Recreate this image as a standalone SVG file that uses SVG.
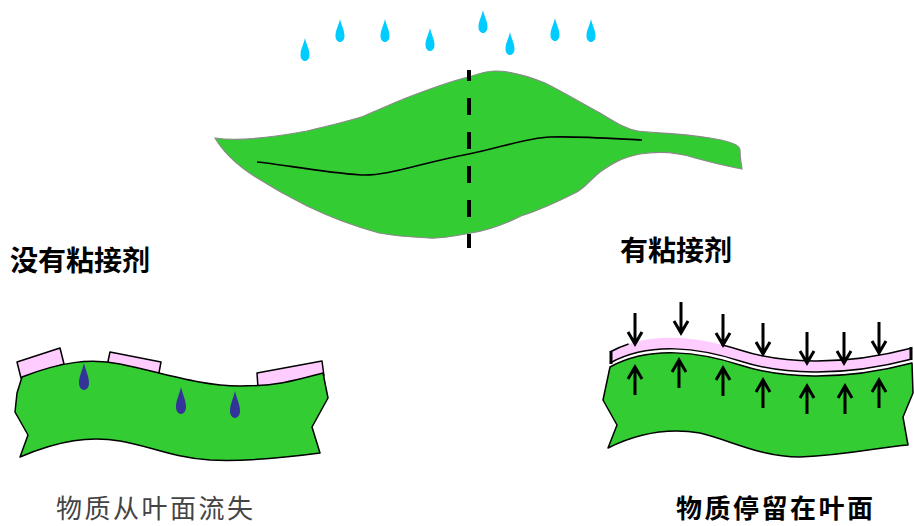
<svg xmlns="http://www.w3.org/2000/svg" width="914" height="526" viewBox="0 0 914 526">
  <style>
    .leaf { fill: #33CC33; stroke: #000; stroke-width: 1.5; stroke-linejoin: round; }
    .leaf-top { fill: #33CC33; stroke: #8a8a8a; stroke-width: 1.2; }
    .vein { fill: none; stroke: #000; stroke-width: 1.6; }
    .coat { fill: #FFCCFF; stroke: #000; stroke-width: 1.5; stroke-linejoin: round; }
    .rain { fill: #00CCFF; }
    .loss { fill: #333399; }
    .arrow { fill: none; stroke: #000; stroke-width: 3; stroke-linecap: butt; }
    .edge { fill: none; stroke: #000; stroke-width: 1.5; }
    .cap { fill: none; stroke: #000; stroke-width: 3; }
    .label { font-family: "Noto Sans CJK SC", "Noto Sans", sans-serif; font-size: 28px; font-weight: bold; fill: #000; }
    .note { font-family: "Noto Sans CJK SC", "Noto Sans", sans-serif; font-size: 26px; letter-spacing: 2.5px; }
  </style>
  <defs>
    <path id="drop" d="M0,0 C1.5,7 4.5,11 4.5,17 C4.5,20.5 2.5,23 0,23 C-2.5,23 -4.5,20.5 -4.5,17 C-4.5,11 -1.5,7 0,0 Z"/>
    <path id="drop-big" d="M0,0 C1.8,8 5,13 5,20 C5,24 2.8,27 0,27 C-2.8,27 -5,24 -5,20 C-5,13 -1.8,8 0,0 Z"/>
    <path id="arrow-down" d="M0,0 V30 M-7,19 L0,31 L7,19"/>
    <path id="arrow-up" d="M0,28 V0 M-7,12 L0,0 L7,12"/>
  </defs>

  <!-- rain above the leaf -->
  <g id="rain">
    <use href="#drop" class="rain" x="305" y="38"/>
    <use href="#drop" class="rain" x="340" y="19"/>
    <use href="#drop" class="rain" x="385" y="19"/>
    <use href="#drop" class="rain" x="430" y="28"/>
    <use href="#drop" class="rain" x="483" y="10"/>
    <use href="#drop" class="rain" x="510" y="32"/>
    <use href="#drop" class="rain" x="555" y="18"/>
    <use href="#drop" class="rain" x="591" y="19"/>
  </g>

  <!-- whole leaf with its cutting line -->
  <g id="leaf-whole">
    <path class="leaf-top" d="M215,138 C240,142 280,136 307,131 C335,124 350,121 364,116 C385,107 400,100 414,95 C435,87 455,80 469,77 C480,73 488,71 495,71 C510,71 525,75 545,83 C565,93 585,105 600,113 C615,122 625,129 638,131 C650,133 680,133 710,138 C730,141 740,145 740,150 C740,158 741,162 742,169 C725,166 710,162 695,158 C680,153 660,151 640,154 C620,158 610,165 600,172 C590,180 585,188 575,193 C555,203 540,210 521,216 C505,224 490,230 471,233 C455,236 440,239 429,238 C410,237 395,236 379,233 C350,225 330,217 307,206 C285,195 265,183 254,176 C240,167 225,155 215,138 Z"/>
    <path class="vein" d="M257,162 C280,164 320,172 361,175 C390,176 420,163 469,154 C500,148 525,138 550,137 C580,136 620,139 642,140"/>
    <line x1="469" y1="70" x2="469" y2="248" stroke="#000" stroke-width="4" stroke-dasharray="17 17" stroke-dashoffset="6"/>
  </g>

  <!-- section without adhesive -->
  <g id="section-plain">
    <polygon class="coat" points="17,362 60,348 64,364 21,378"/>
    <polygon class="coat" points="110,352 161,362 158,378 107,366"/>
    <polygon class="coat" points="257,373 322,361 324,376 258,388"/>
    <path class="leaf" d="M22,377 C60,362 90,358 120,364 C160,372 200,386 240,386 C280,386 300,379 323,373 L328,398 L312,427 L320,453 C290,457 250,462 210,460 C170,457 150,446 120,441 C90,436 60,440 20,457 L28,435 L15,412 L17,393 Z"/>
    <use href="#drop-big" class="loss" x="84" y="363"/>
    <use href="#drop-big" class="loss" x="181" y="387"/>
    <use href="#drop-big" class="loss" x="235" y="391"/>
  </g>

  <!-- section with adhesive film -->
  <g id="section-coated">
    <path d="M610,352 C650,330 700,337 740,350 C780,363 840,367 912,348 L912,359 C840,378 780,374 740,361 C700,348 650,341 610,363 Z" fill="#FFCCFF"/>
    <path class="edge" d="M610,363 C650,341 700,348 740,361 C780,374 840,378 912,359"/>
    <path class="edge" d="M610,352 C616,348.7 622.2,346.05 628.6,344"/>
    <path class="edge" d="M721.3,344.75 C727.8,346.3 734,348.05 740,350 C780,363 840,367 912,348"/>
    <line class="cap" x1="611" y1="351" x2="611" y2="364"/>
    <line class="cap" x1="911" y1="347" x2="911" y2="360"/>
    <path class="leaf" d="M610,367 C650,345 700,352 740,365 C780,378 840,382 912,363 L913,393 L903,417 L908,445 C880,447 850,455 800,457 C760,457 730,440 700,433 C670,428 640,432 608,448 L617,425 L603,400 Z"/>
  </g>

  <!-- pressure arrows on the film -->
  <g id="connectors">
    <use href="#arrow-down" class="arrow" x="635" y="313"/>
    <use href="#arrow-down" class="arrow" x="681" y="302"/>
    <use href="#arrow-down" class="arrow" x="723" y="314"/>
    <use href="#arrow-down" class="arrow" x="763" y="323"/>
    <use href="#arrow-down" class="arrow" x="807" y="332"/>
    <use href="#arrow-down" class="arrow" x="844" y="332"/>
    <use href="#arrow-down" class="arrow" x="879" y="322"/>
    <use href="#arrow-up" class="arrow" x="635" y="367"/>
    <use href="#arrow-up" class="arrow" x="679" y="360"/>
    <use href="#arrow-up" class="arrow" x="723" y="368"/>
    <use href="#arrow-up" class="arrow" x="763" y="380"/>
    <use href="#arrow-up" class="arrow" x="807" y="386"/>
    <use href="#arrow-up" class="arrow" x="845" y="386"/>
    <use href="#arrow-up" class="arrow" x="879" y="380"/>
  </g>

  <!-- captions -->
  <g id="labels">
    <text class="label" x="10" y="271">没有粘接剂</text>
    <text class="label" x="620" y="261">有粘接剂</text>
    <text class="note" x="56" y="518" fill="#444">物质从叶面流失</text>
    <text class="note" x="676" y="518" font-weight="bold" fill="#000">物质停留在叶面</text>
  </g>
</svg>
